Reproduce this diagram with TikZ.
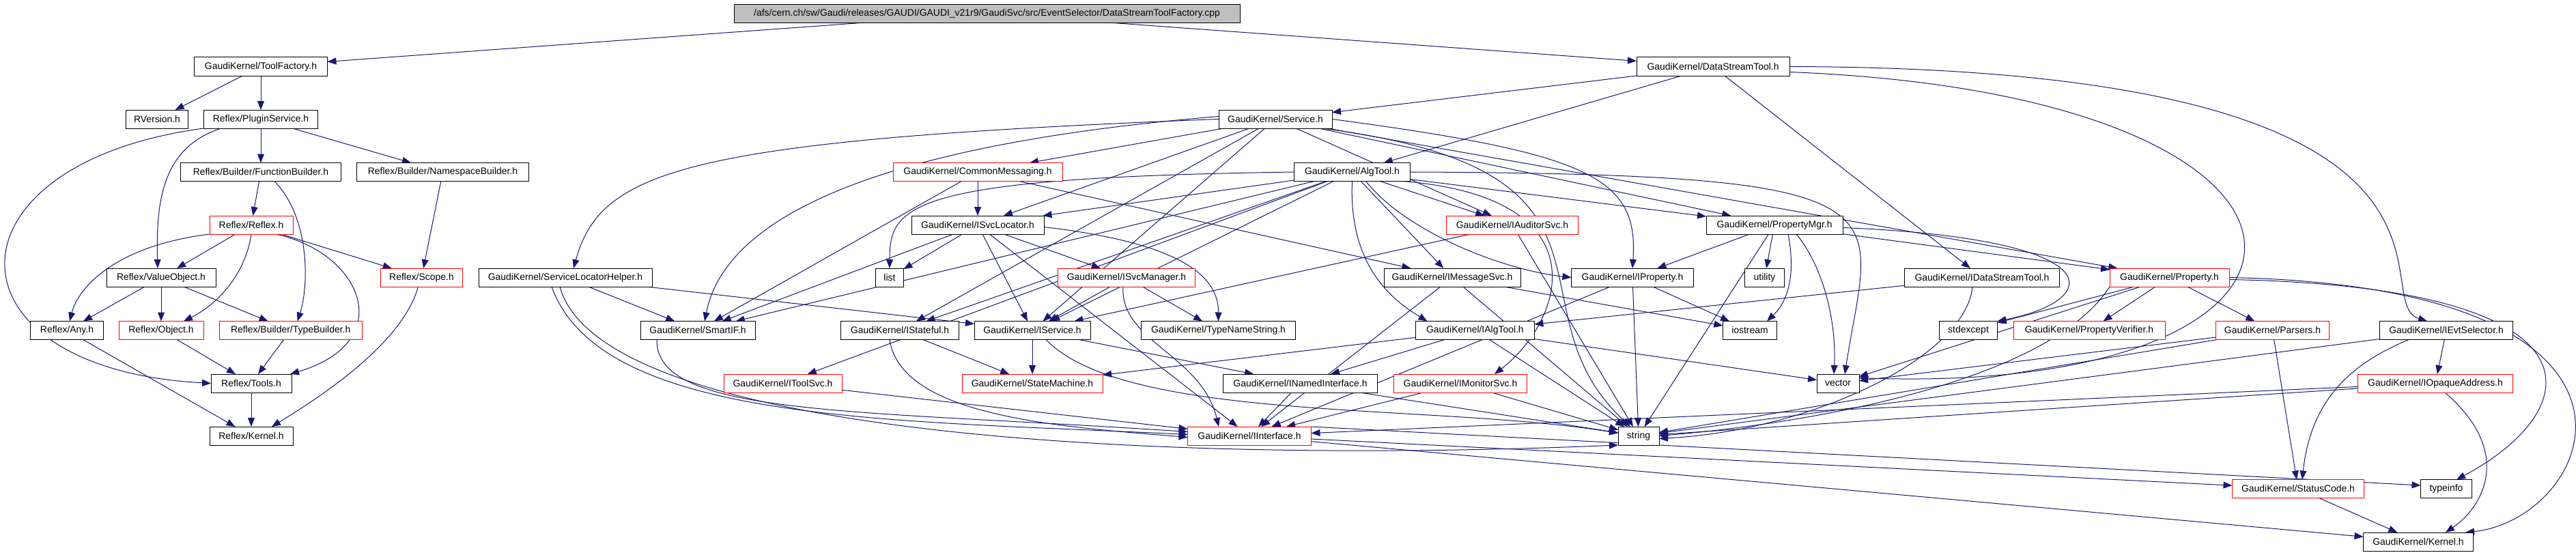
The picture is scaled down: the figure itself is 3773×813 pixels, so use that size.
\documentclass[tikz,border=0pt]{standalone}
\usepackage{fontspec}
\setmainfont{Liberation Sans}
\usetikzlibrary{arrows.meta,backgrounds}
\definecolor{edgeblue}{HTML}{191970}
\definecolor{rootgray}{HTML}{BFBFBF}

\begin{document}
\begin{tikzpicture}[x=1bp,y=-1bp,
  hdr/.style={draw=black,fill=white,line width=1bp,minimum height=27bp,inner sep=0pt,outer sep=0pt,font={\fontsize{14}{16}\selectfont}},
  hdrred/.style={hdr,draw=red},
  hdrroot/.style={hdr,fill=rootgray},
  inc/.style={draw=edgeblue,line width=1bp,-{Triangle[length=13bp,width=10bp]}}]
  \useasboundingbox (0,0) rectangle (3773,813);

  % Fitxer arrel
  \node[hdrroot,minimum width=741bp] (root) at (1445.5,20) {/afs/cern.ch/sw/Gaudi/releases/GAUDI/GAUDI\_v21r9/GaudiSvc/src/EventSelector/DataStreamToolFactory.cpp};
  % Fila 1
  \node[hdr,minimum width=195bp] (toolfac) at (382,97.5) {GaudiKernel/ToolFactory.h};
  \node[hdr,minimum width=224bp] (dstool) at (2509,97.5) {GaudiKernel/DataStreamTool.h};
  % Fila 2
  \node[hdr,minimum width=91bp] (rversion) at (230,174.5) {RVersion.h};
  \node[hdr,minimum width=167bp] (plugin) at (382,174.5) {Reflex/PluginService.h};
  \node[hdr,minimum width=166bp] (service) at (1868,174.5) {GaudiKernel/Service.h};
  % Fila 3
  \node[hdr,minimum width=235bp] (funcb) at (382,252) {Reflex/Builder/FunctionBuilder.h};
  \node[hdr,minimum width=252bp] (nsb) at (648.5,252) {Reflex/Builder/NamespaceBuilder.h};
  \node[hdrred,minimum width=248bp] (commsg) at (1432,252) {GaudiKernel/CommonMessaging.h};
  \node[hdr,minimum width=170bp] (algtool) at (1980.5,252) {GaudiKernel/AlgTool.h};
  % Fila 4
  \node[hdrred,minimum width=122bp] (reflex) at (368,329.5) {Reflex/Reflex.h};
  \node[hdr,minimum width=194bp] (isvcloc) at (1432,329.5) {GaudiKernel/ISvcLocator.h};
  \node[hdrred,minimum width=193bp] (iauditor) at (2215,329.5) {GaudiKernel/IAuditorSvc.h};
  \node[hdr,minimum width=200bp] (propmgr) at (2599,329.5) {GaudiKernel/PropertyMgr.h};
  % Fila 5
  \node[hdr,minimum width=160bp] (valobj) at (236,406.5) {Reflex/ValueObject.h};
  \node[hdrred,minimum width=120bp] (scope) at (617.5,406.5) {Reflex/Scope.h};
  \node[hdr,minimum width=254bp] (slh) at (828,406.5) {GaudiKernel/ServiceLocatorHelper.h};
  \node[hdr,minimum width=41bp] (list) at (1303,406.5) {list};
  \node[hdrred,minimum width=201bp] (isvcmgr) at (1650,406.5) {GaudiKernel/ISvcManager.h};
  \node[hdr,minimum width=200bp] (imsgsvc) at (2127,406.5) {GaudiKernel/IMessageSvc.h};
  \node[hdr,minimum width=179bp] (iprop) at (2391,406.5) {GaudiKernel/IProperty.h};
  \node[hdr,minimum width=58bp] (utility) at (2584.5,406.5) {utility};
  \node[hdr,minimum width=227bp] (idstool) at (2903,406.5) {GaudiKernel/IDataStreamTool.h};
  \node[hdrred,minimum width=175bp] (property) at (3177.5,406.5) {GaudiKernel/Property.h};
  % Fila 6
  \node[hdr,minimum width=107bp] (any) at (98,484) {Reflex/Any.h};
  \node[hdrred,minimum width=124bp] (object) at (236,484) {Reflex/Object.h};
  \node[hdrred,minimum width=209bp] (typeb) at (425.7,484) {Reflex/Builder/TypeBuilder.h};
  \node[hdr,minimum width=168bp] (smartif) at (1022,484) {GaudiKernel/SmartIF.h};
  \node[hdr,minimum width=173bp] (istateful) at (1318,484) {GaudiKernel/IStateful.h};
  \node[hdr,minimum width=170bp] (iservice) at (1512,484) {GaudiKernel/IService.h};
  \node[hdr,minimum width=226bp] (typename) at (1784.5,484) {GaudiKernel/TypeNameString.h};
  \node[hdr,minimum width=174bp] (ialgtool) at (2160.4,484) {GaudiKernel/IAlgTool.h};
  \node[hdr,minimum width=79bp] (iostream) at (2563,484) {iostream};
  \node[hdr,minimum width=85bp] (stdexcept) at (2883,484) {stdexcept};
  \node[hdrred,minimum width=222bp] (propver) at (3060,484) {GaudiKernel/PropertyVerifier.h};
  \node[hdrred,minimum width=166bp] (parsers) at (3328.5,484) {GaudiKernel/Parsers.h};
  \node[hdr,minimum width=195bp] (ievtsel) at (3583,484) {GaudiKernel/IEvtSelector.h};
  % Fila 7
  \node[hdr,minimum width=118bp] (tools) at (368,561.5) {Reflex/Tools.h};
  \node[hdrred,minimum width=173bp] (itoolsvc) at (1146.5,561.5) {GaudiKernel/IToolSvc.h};
  \node[hdrred,minimum width=206bp] (statemach) at (1512,561.5) {GaudiKernel/StateMachine.h};
  \node[hdr,minimum width=226bp] (inamed) at (1904.5,561.5) {GaudiKernel/INamedInterface.h};
  \node[hdrred,minimum width=195bp] (imonitor) at (2139,561.5) {GaudiKernel/IMonitorSvc.h};
  \node[hdr,minimum width=62bp] (vector) at (2692,561.5) {vector};
  \node[hdrred,minimum width=227bp] (iopaque) at (3567,561.5) {GaudiKernel/IOpaqueAddress.h};
  % Fila 8
  \node[hdr,minimum width=122bp] (rkernel) at (368,638.5) {Reflex/Kernel.h};
  \node[hdrred,minimum width=181bp] (iinterface) at (1830,638.5) {GaudiKernel/IInterface.h};
  \node[hdr,minimum width=60bp] (string) at (2400,638.5) {string};
  % Files 9 i 10
  \node[hdrred,minimum width=193bp] (statuscode) at (3366,716) {GaudiKernel/StatusCode.h};
  \node[hdr,minimum width=75bp] (typeinfo) at (3583,716) {typeinfo};
  \node[hdr,minimum width=161bp] (gkernel) at (3542,793.5) {GaudiKernel/Kernel.h};

  \begin{pgfonlayer}{background}
  % Costat Reflex
  \draw[inc] (root) -- (toolfac);
  \draw[inc] (root) -- (dstool);
  \draw[inc] (toolfac) -- (rversion);
  \draw[inc] (toolfac) -- (plugin);
  \draw[inc] (plugin) -- (funcb);
  \draw[inc] (plugin) -- (nsb);
  \draw[inc] ([xshift=-58bp]plugin.south) .. controls (240,215) and (228,290) .. ([xshift=-5bp]valobj.north);
  \draw[inc] (plugin.south west) .. controls (-90,240) and (-90,540) .. (tools.west);
  \draw[inc] (funcb) -- (reflex);
  \draw[inc] ([xshift=20bp]funcb.south) .. controls (455,320) and (452,420) .. ([xshift=10bp]typeb.north);
  \draw[inc] (nsb) -- (scope);
  \draw[inc] (reflex) -- (valobj);
  \draw[inc] (reflex) -- (scope);
  \draw[inc] (reflex.south west) .. controls (170,360) and (115,420) .. ([xshift=4bp]any.north);
  \draw[inc] (reflex.south) .. controls (360,400) and (320,445) .. ([xshift=33bp]object.north);
  \draw[inc] ([xshift=36bp]reflex.south) .. controls (530,370) and (585,500) .. ([xshift=-2bp]tools.north east);
  \draw[inc] (valobj) -- (any);
  \draw[inc] (valobj) -- (object);
  \draw[inc] (valobj) -- (typeb);
  \draw[inc] (any) -- (rkernel);
  \draw[inc] (object) -- (tools);
  \draw[inc] (typeb) -- (tools);
  \draw[inc] (tools) -- (rkernel);
  \draw[inc] ([xshift=-5bp]scope.south) .. controls (590,500) and (480,575) .. ([xshift=30bp]rkernel.north);

  % Costat GaudiKernel
  \draw[inc] (dstool) -- (service);
  \draw[inc] (dstool) -- (algtool);
  \draw[inc] (dstool) -- (idstool);
  \draw[inc] (dstool.east) .. controls (3700,100) and (3460,440) .. ([xshift=-28bp]ievtsel.north);
  \draw[inc] ([yshift=-8bp]dstool.east) .. controls (3500,140) and (3480,580) .. ([yshift=8bp]vector.east);

  \draw[inc] (service) -- (commsg);
  \draw[inc] (service) -- (isvcloc);
  \draw[inc] (service) -- (iservice);
  \draw[inc] (service) -- (istateful);
  \draw[inc] (service) -- (iauditor);
  \draw[inc] (service) -- (propmgr);
  \draw[inc] (service) -- (property);
  \draw[inc] (service.west) .. controls (1000,205) and (880,250) .. ([xshift=12bp]slh.north);
  \draw[inc] ([yshift=4bp]service.west) .. controls (1250,215) and (1060,330) .. ([xshift=10bp]smartif.north);
  \draw[inc] (service.east) .. controls (2330,225) and (2400,260) .. (iprop.north);
  \draw[inc] ([xshift=-15bp]service.south east) .. controls (2420,250) and (2200,450) .. ([xshift=-12bp]string.north);

  \draw[inc] (algtool) -- (isvcloc);
  \draw[inc] (algtool) -- (iauditor);
  \draw[inc] (algtool) -- (propmgr);
  \draw[inc] (algtool) -- (imsgsvc);
  \draw[inc] (algtool) -- (itoolsvc);
  \draw[inc] (algtool) -- (iservice);
  \draw[inc] (algtool) -- (istateful);
  \draw[inc] (algtool) -- (smartif);
  \draw[inc] (algtool.west) .. controls (1330,260) and (1303,300) .. (list.north);
  \draw[inc] ([xshift=20bp]algtool.south) .. controls (2060,340) and (2200,395) .. (iprop.west);
  \draw[inc] (algtool.south) .. controls (1975,390) and (2040,440) .. ([xshift=-70bp]ialgtool.north);
  \draw[inc] ([xshift=-10bp]algtool.south east) .. controls (2350,290) and (2290,470) .. ([xshift=50bp]imonitor.north);
  \draw[inc] (algtool.east) .. controls (2820,255) and (2740,300) .. ([xshift=10bp]vector.north);

  \draw[inc] (commsg) -- (isvcloc);
  \draw[inc] (commsg) -- (imsgsvc);
  \draw[inc] (commsg) -- (smartif);

  \draw[inc] (isvcloc) -- (list);
  \draw[inc] (isvcloc) -- (isvcmgr);
  \draw[inc] (isvcloc) -- (smartif);
  \draw[inc] (isvcloc) -- (iservice);
  \draw[inc] (isvcloc) -- (iinterface);
  \draw[inc] ([yshift=-3bp]isvcloc.east) .. controls (1720,355) and (1785,400) .. (typename.north);

  \draw[inc] (iauditor) -- (iservice);
  \draw[inc] (iauditor) -- (string);

  \draw[inc] (propmgr) -- (iprop);
  \draw[inc] (propmgr) -- (utility);
  \draw[inc] (propmgr) -- (property);
  \draw[inc] (propmgr) -- (string);
  \draw[inc] ([xshift=20bp]propmgr.south) .. controls (2630,400) and (2620,440) .. ([xshift=25bp]iostream.north);
  \draw[inc] ([xshift=32bp]propmgr.south) .. controls (2670,390) and (2690,470) .. ([xshift=-6bp]vector.north);
  \draw[inc] ([yshift=-4bp]propmgr.east) .. controls (3100,350) and (3080,440) .. (stdexcept.north east);

  \draw[inc] (slh) -- (smartif);
  \draw[inc] (slh) -- (iservice);
  \draw[inc] ([xshift=-20bp]slh.south) .. controls (880,620) and (1300,615) .. ([yshift=2bp]iinterface.west);
  \draw[inc] ([xshift=-8bp]slh.south) .. controls (880,640) and (1700,680) .. (string.south west);

  \draw[inc] (isvcmgr) -- (iservice);
  \draw[inc] (isvcmgr) -- (typename);
  \draw[inc] ([xshift=-5bp]isvcmgr.south) .. controls (1640,500) and (1760,520) .. ([xshift=-45bp]iinterface.north);

  \draw[inc] (imsgsvc) -- (iinterface);
  \draw[inc] (imsgsvc) -- (string);
  \draw[inc] (imsgsvc) -- (iostream);
  \draw[inc] (iprop) -- (iinterface);
  \draw[inc] (iprop) -- (string);
  \draw[inc] (iprop) -- (iostream);

  \draw[inc] (idstool) -- (ialgtool);
  \draw[inc] ([xshift=-14bp]idstool.south) .. controls (2880,520) and (2660,630) .. ([yshift=-4bp]string.east);

  \draw[inc] (property) -- (propver);
  \draw[inc] (property) -- (parsers);
  \draw[inc] (property) -- (stdexcept);
  \draw[inc] (property) -- (vector);
  \draw[inc] (property.south west) .. controls (3000,560) and (2650,620) .. (string.east);
  \draw[inc] ([yshift=-3bp]property.east) .. controls (3830,420) and (3790,600) .. ([xshift=15bp]typeinfo.north);
  \draw[inc] (property.east) .. controls (3950,420) and (3800,760) .. ([xshift=69bp]gkernel.north);

  \draw[inc] ([xshift=-60bp]smartif.south) .. controls (960,610) and (1250,600) .. ([yshift=6bp]iinterface.west);
  \draw[inc] (istateful) -- (statemach);
  \draw[inc] ([xshift=-15bp]istateful.south) .. controls (1320,610) and (1550,625) .. ([yshift=-2bp]iinterface.west);
  \draw[inc] (iservice) -- (statemach);
  \draw[inc] (iservice) -- (inamed);
  \draw[inc] ([xshift=20bp]iservice.south) .. controls (1650,620) and (2100,590) .. ([yshift=4bp]string.west);
  \draw[inc] (ialgtool) -- (inamed);
  \draw[inc] (ialgtool) -- (string);
  \draw[inc] (ialgtool) -- (statemach);
  \draw[inc] (ialgtool) -- ([yshift=5bp]vector.west);
  \draw[inc] (inamed) -- (iinterface);
  \draw[inc] (inamed) -- (string);
  \draw[inc] (imonitor) -- (iinterface);
  \draw[inc] (imonitor) -- (string);
  \draw[inc] (itoolsvc) -- (iinterface);

  \draw[inc] (iinterface) -- (statuscode);
  \draw[inc] (iinterface.north east) -- ([yshift=5bp]typeinfo.west);
  \draw[inc] (iinterface) -- (gkernel);
  \draw[inc] (parsers) -- (statuscode);
  \draw[inc] (parsers) -- (vector);
  \draw[inc] (parsers) -- (string);
  \draw[inc] (ievtsel) -- (iopaque);
  \draw[inc] (ievtsel) -- (string);
  \draw[inc] ([xshift=-55bp]ievtsel.south) .. controls (3450,530) and (3385,580) .. ([xshift=6bp]statuscode.north);
  \draw[inc] (iopaque) -- (iinterface);
  \draw[inc] (iopaque) -- (string);
  \draw[inc] ([xshift=14bp]iopaque.south) .. controls (3680,660) and (3640,740) .. ([xshift=40bp]gkernel.north);
  \draw[inc] (statuscode) -- (gkernel);
  \end{pgfonlayer}
\end{tikzpicture}
\end{document}
